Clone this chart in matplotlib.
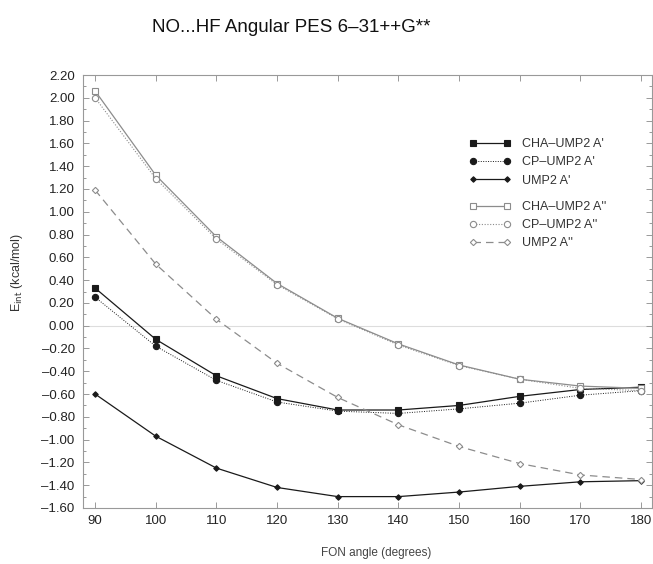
import matplotlib
matplotlib.use("Agg")
import matplotlib.pyplot as plt
from matplotlib.ticker import MultipleLocator

plt.rcParams['font.family'] = ['Liberation Sans', 'DejaVu Sans']

angles = [90, 100, 110, 120, 130, 140, 150, 160, 170, 180]

cha_ump2_a1 = [0.33, -0.12, -0.44, -0.64, -0.74, -0.74, -0.70, -0.62, -0.56, -0.54]
cp_ump2_a1 = [0.25, -0.18, -0.48, -0.67, -0.75, -0.77, -0.73, -0.68, -0.61, -0.57]
ump2_a1 = [-0.60, -0.97, -1.25, -1.42, -1.50, -1.50, -1.46, -1.41, -1.37, -1.36]

cha_ump2_a2 = [2.06, 1.32, 0.78, 0.37, 0.065, -0.16, -0.345, -0.47, -0.53, -0.55]
cp_ump2_a2 = [2.00, 1.29, 0.76, 0.36, 0.06, -0.17, -0.35, -0.47, -0.55, -0.57]
ump2_a2 = [1.19, 0.54, 0.056, -0.33, -0.63, -0.87, -1.06, -1.21, -1.31, -1.35]

labels = ["CHA\u2013UMP2 A'", "CP\u2013UMP2 A'", "UMP2 A'",
          "CHA\u2013UMP2 A''", "CP\u2013UMP2 A''", "UMP2 A''"]
yticks = [round(-1.6 + 0.2 * i, 2) for i in range(20)]

fig = plt.figure(figsize=(6.53, 5.64), dpi=100)
ax = fig.add_axes([83/653, 1-508/564, (652-83)/653, (508-75)/564])

dark = '#1a1a1a'
gray = '#8c8c8c'

ax.axhline(0, color='#dddddd', lw=0.8, zorder=1)

styles = [
    dict(data=cha_ump2_a1, color=dark, ls='-', lw=0.9, marker='s', ms=4.2, mfc=dark, mec=dark),
    dict(data=cp_ump2_a1, color=dark, ls=(0, (1, 1.5)), lw=0.7, marker='o', ms=4.5, mfc=dark, mec=dark),
    dict(data=ump2_a1, color=dark, ls='-', lw=0.9, marker='D', ms=2.8, mfc=dark, mec=dark),
    dict(data=cha_ump2_a2, color=gray, ls='-', lw=0.9, marker='s', ms=4.2, mfc='white', mec=gray),
    dict(data=cp_ump2_a2, color=gray, ls=(0, (1, 1.5)), lw=0.8, marker='o', ms=4.5, mfc='white', mec=gray),
    dict(data=ump2_a2, color=gray, ls=(0, (6, 4)), lw=0.9, marker='D', ms=3.2, mfc='white', mec=gray),
]

handles = []
for st, lab in zip(styles, labels):
    ln, = ax.plot(angles, st['data'], color=st['color'], ls=st['ls'], lw=st['lw'],
                  marker=st['marker'], ms=st['ms'], mfc=st['mfc'], mec=st['mec'],
                  mew=0.8, label=lab, zorder=3)
    handles.append(ln)

legkw = dict(loc='upper left', frameon=False, fontsize=9, numpoints=2, handlelength=3.3,
             labelspacing=0.5, handletextpad=0.9, borderaxespad=0, borderpad=0)
leg1 = ax.legend(handles[:3], labels[:3],
                 bbox_to_anchor=((469-83)/569, 1-(138-75)/433), **legkw)
ax.add_artist(leg1)
leg2 = ax.legend(handles[3:], labels[3:],
                 bbox_to_anchor=((469-83)/569, 1-(201-75)/433), **legkw)
for lg in (leg1, leg2):
    for t in lg.get_texts():
        t.set_color('#333333')

ax.set_xlim(88, 181.8)
ax.set_ylim(-1.6, 2.2)
ax.xaxis.set_major_locator(MultipleLocator(10))
ax.yaxis.set_minor_locator(MultipleLocator(0.1))
ax.set_yticks(yticks)
ax.set_yticklabels([("\u2013" if v < 0 else "") + "%.2f" % abs(v) for v in yticks])
ax.tick_params(axis='both', which='both', direction='in', top=True, right=True,
               labelsize=9.5, colors='#999999', labelcolor='#222222', length=4, width=0.7)
ax.tick_params(axis='y', which='minor', length=2.5)
ax.tick_params(axis='y', pad=6)
ax.tick_params(axis='x', pad=5)
for sp in ax.spines.values():
    sp.set_color('#999999')
    sp.set_linewidth(0.8)

fig.text(291/653, 1-28/564, "NO...HF Angular PES 6\u201331++G**", ha='center', va='center',
         fontsize=13.5, color='#111111')
fig.text(17/653, 1-272/564, "E$_{\\rm int}$ (kcal/mol)", rotation=90, ha='center', va='center',
         fontsize=9, color='#333333')
fig.text(376/653, 1-553/564, "FON angle (degrees)", ha='center', va='center',
         fontsize=8.5, color='#444444')

fig.savefig("out.png", dpi=100)
